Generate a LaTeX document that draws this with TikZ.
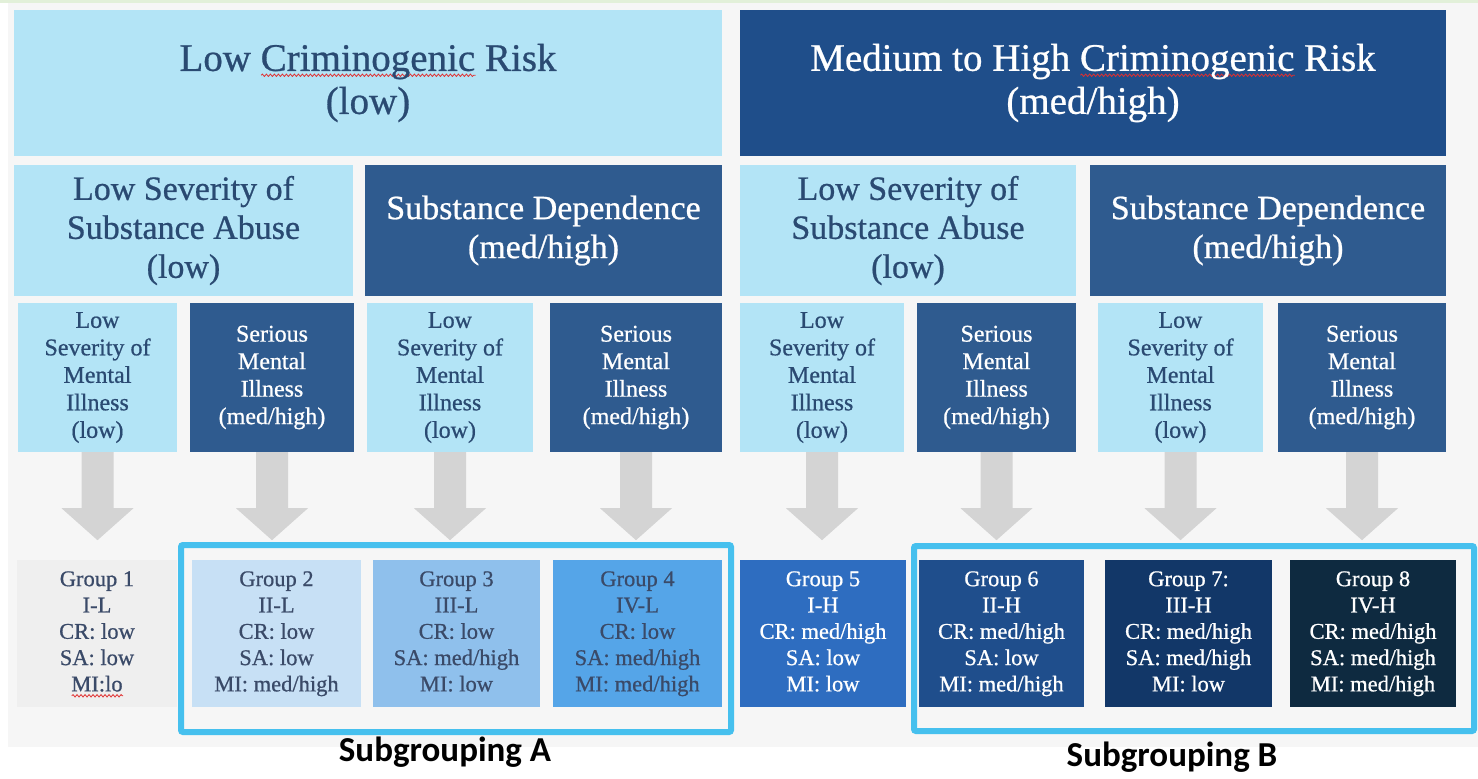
\documentclass[tikz,border=0pt]{standalone}
\usepackage{fontspec}
\setmainfont{Liberation Serif}[FakeBold=0.7]
\newfontfamily\labelfont{Carlito}
\usetikzlibrary{calc,decorations.pathmorphing}
\definecolor{bggray}{HTML}{F6F6F6}
\definecolor{topgreen}{HTML}{E2F0D9}
\definecolor{lightcyan}{HTML}{B3E4F6}
\definecolor{darktext}{HTML}{2A4A72}
\definecolor{topdark}{HTML}{1F4E8A}
\definecolor{middark}{HTML}{2F5B8F}
\definecolor{arrowgray}{HTML}{D4D4D4}
\definecolor{frameblue}{HTML}{46C0EE}
\definecolor{gA}{HTML}{EFEFEF}
\definecolor{gB}{HTML}{C7E0F5}
\definecolor{gC}{HTML}{8FC0EC}
\definecolor{gD}{HTML}{55A5E8}
\definecolor{gE}{HTML}{2E6DC0}
\definecolor{gF}{HTML}{1F4E8C}
\definecolor{gG}{HTML}{123768}
\definecolor{gH}{HTML}{0E2A40}
\definecolor{grouptext}{HTML}{3A4A68}
\definecolor{spellred}{HTML}{E03030}
\newdimen\spellw
\newcommand\spellwave[1]{\setbox0=\hbox{#1}\spellw=\wd0\rlap{\raisebox{-6pt}[0pt][0pt]{\tikz[x=1pt,y=1pt]\draw[spellred,line width=0.8pt,decorate,decoration={snake,amplitude=1.2pt,segment length=4pt}] (0,0) -- (\spellw,0);}}#1}
\newcommand\grayarrow[1]{%
  \fill[arrowgray] ($(#1.south)+(-16,0)$) -- ($(#1.south)+(-16,56)$) -- ($(#1.south)+(-36,56)$)
    -- ($(#1.south)+(0,88)$) -- ($(#1.south)+(36,56)$) -- ($(#1.south)+(16,56)$)
    -- ($(#1.south)+(16,0)$) -- cycle;}
\begin{document}
\begin{tikzpicture}[x=1pt,y=-1pt,
  box/.style={rectangle, inner sep=0pt, align=center},
  lightbox/.style={box, fill=lightcyan, text=darktext},
  darkbox/.style={box, fill=middark, text=white},
  topfont/.style={font=\fontsize{39}{43}\selectfont},
  secfont/.style={font=\fontsize{34}{39}\selectfont},
  thirdfont/.style={font=\fontsize{24}{27.5}\selectfont},
  groupbox/.style={box, minimum height=147pt, font=\fontsize{22.5}{26.3}\selectfont},
  subframe/.style={draw=frameblue, line width=6pt, rounded corners=2pt},
  sublabel/.style={font=\labelfont\bfseries\fontsize{35}{40}\selectfont, text=black}]
\useasboundingbox (0,0) rectangle (1478,779);
\fill[white] (0,0) rectangle (1478,779);
\fill[bggray] (8,3) rectangle (1478,747);
\fill[topgreen] (0,0) rectangle (1478,3);

% top row
\node[lightbox, topfont, minimum width=708pt, minimum height=146pt] (tl) at (368,83) {Low \spellwave{Criminogenic} Risk\\(low)};
\node[box, fill=topdark, text=white, topfont, minimum width=706pt, minimum height=146pt] (tr) at (1093,83) {Medium to High \spellwave{Criminogenic} Risk\\(med/high)};

% second row
\node[lightbox, secfont, minimum width=339pt, minimum height=131pt] (sa1) at (183.5,230.5) {Low Severity of\\Substance Abuse\\(low)};
\node[darkbox, secfont, minimum width=357pt, minimum height=131pt] (sd1) at (543.5,230.5) {Substance Dependence\\(med/high)};
\node[lightbox, secfont, minimum width=336pt, minimum height=131pt] (sa2) at (908,230.5) {Low Severity of\\Substance Abuse\\(low)};
\node[darkbox, secfont, minimum width=356pt, minimum height=131pt] (sd2) at (1268,230.5) {Substance Dependence\\(med/high)};

% third row
\node[lightbox, thirdfont, minimum width=159pt, minimum height=149pt] (m1) at (97.5,377.5) {Low\\Severity of\\Mental\\Illness\\(low)};
\node[darkbox, thirdfont, minimum width=164pt, minimum height=149pt] (m2) at (272,377.5) {Serious\\Mental\\Illness\\(med/high)};
\node[lightbox, thirdfont, minimum width=166pt, minimum height=149pt] (m3) at (450,377.5) {Low\\Severity of\\Mental\\Illness\\(low)};
\node[darkbox, thirdfont, minimum width=172pt, minimum height=149pt] (m4) at (636,377.5) {Serious\\Mental\\Illness\\(med/high)};
\node[lightbox, thirdfont, minimum width=164pt, minimum height=149pt] (m5) at (822,377.5) {Low\\Severity of\\Mental\\Illness\\(low)};
\node[darkbox, thirdfont, minimum width=159pt, minimum height=149pt] (m6) at (996.5,377.5) {Serious\\Mental\\Illness\\(med/high)};
\node[lightbox, thirdfont, minimum width=165pt, minimum height=149pt] (m7) at (1180.5,377.5) {Low\\Severity of\\Mental\\Illness\\(low)};
\node[darkbox, thirdfont, minimum width=168pt, minimum height=149pt] (m8) at (1362,377.5) {Serious\\Mental\\Illness\\(med/high)};

% arrows
\foreach \m in {m1,m2,m3,m4,m5,m6,m7,m8} {\grayarrow{\m}}

% groups
\node[groupbox, fill=gA, text=grouptext, minimum width=160pt] (g1) at (97,633.5) {\strut Group 1\\I-L\\CR: low\\SA: low\\\spellwave{MI:lo}\strut};
\node[groupbox, fill=gB, text=grouptext, minimum width=169pt] (g2) at (276.5,633.5) {\strut Group 2\\II-L\\CR: low\\SA: low\\MI: med/high\strut};
\node[groupbox, fill=gC, text=grouptext, minimum width=167pt] (g3) at (456.5,633.5) {\strut Group 3\\III-L\\CR: low\\SA: med/high\\MI: low\strut};
\node[groupbox, fill=gD, text=grouptext, minimum width=169pt] (g4) at (637.5,633.5) {\strut Group 4\\IV-L\\CR: low\\SA: med/high\\MI: med/high\strut};
\node[groupbox, fill=gE, text=white, minimum width=166pt] (g5) at (823,633.5) {\strut Group 5\\I-H\\CR: med/high\\SA: low\\MI: low\strut};
\node[groupbox, fill=gF, text=white, minimum width=165pt] (g6) at (1001.5,633.5) {\strut Group 6\\II-H\\CR: med/high\\SA: low\\MI: med/high\strut};
\node[groupbox, fill=gG, text=white, minimum width=167pt] (g7) at (1188.5,633.5) {\strut Group 7:\\III-H\\CR: med/high\\SA: med/high\\MI: low\strut};
\node[groupbox, fill=gH, text=white, minimum width=166pt] (g8) at (1373,633.5) {\strut Group 8\\IV-H\\CR: med/high\\SA: med/high\\MI: med/high\strut};

% subgrouping frames
\draw[subframe] (181,545) rectangle (731,732);
\draw[subframe] (914,546) rectangle (1474,731);
\node[sublabel] (la) at (445,752) {Subgrouping A};
\node[sublabel] (lb) at (1172,757) {Subgrouping B};
\end{tikzpicture}
\end{document}
